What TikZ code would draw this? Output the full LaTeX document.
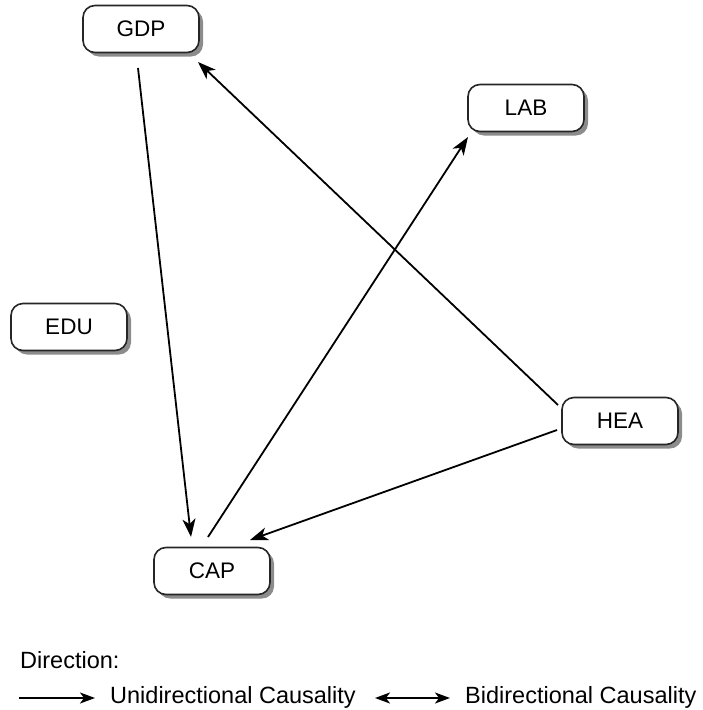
\documentclass[tikz,border=0pt]{standalone}
\usepackage{fontspec}
\setmainfont{Liberation Sans}
\usetikzlibrary{arrows.meta,shadows}
\tikzset{
  var/.style={draw=black!85, line width=1.6pt, rounded corners=12pt, fill=white,
    minimum width=116pt, minimum height=47pt, inner sep=0pt,
    font=\fontsize{22.5pt}{26pt}\selectfont,
    drop shadow={shadow xshift=4pt, shadow yshift=-4pt, fill=black!45, opacity=1}},
  arr/.style={line width=1.8pt, -{Stealth[length=18pt,width=13pt,inset=5pt]}},
  legarr/.style={line width=1.8pt, -{Stealth[length=15pt,width=11pt,inset=4pt]}},
  legbi/.style={line width=1.8pt, {Stealth[length=15pt,width=11pt,inset=4pt]}-{Stealth[length=15pt,width=11pt,inset=4pt]}},
  legtxt/.style={font=\fontsize{23.5pt}{27pt}\selectfont, inner sep=0pt, anchor=base west}
}
\begin{document}
\begin{tikzpicture}[x=1pt,y=-1pt]
\useasboundingbox (0,0) rectangle (703,710);
\node[var] (GDP) at (141,29) {GDP};
\node[var] (LAB) at (526,108) {LAB};
\node[var] (EDU) at (69,327) {EDU};
\node[var] (HEA) at (620,421) {HEA};
\node[var] (CAP) at (212,571) {CAP};

\draw[arr] ([shift={(-3,39)}]GDP.center) -- ([shift={(-21,-34)}]CAP.center);
\draw[arr] ([shift={(-4,-34)}]CAP.center) -- ([shift={(-58,29)}]LAB.center);
\draw[arr] ([shift={(-62,-16)}]HEA.center) -- ([shift={(57,33)}]GDP.center);
\draw[arr] ([shift={(-63,9)}]HEA.center) -- ([shift={(38,-31)}]CAP.center);

\node[legtxt] (dir) at (20,668) {Direction:};
\coordinate (u1) at (19,698);
\coordinate (u2) at (95,698);
\draw[legarr] (u1) -- (u2);
\node[legtxt] (uni) at (110,703) {Unidirectional Causality};
\coordinate (b1) at (375,698);
\coordinate (b2) at (450,698);
\draw[legbi] (b1) -- (b2);
\node[legtxt] (bi) at (465,703) {Bidirectional Causality};
\end{tikzpicture}
\end{document}
